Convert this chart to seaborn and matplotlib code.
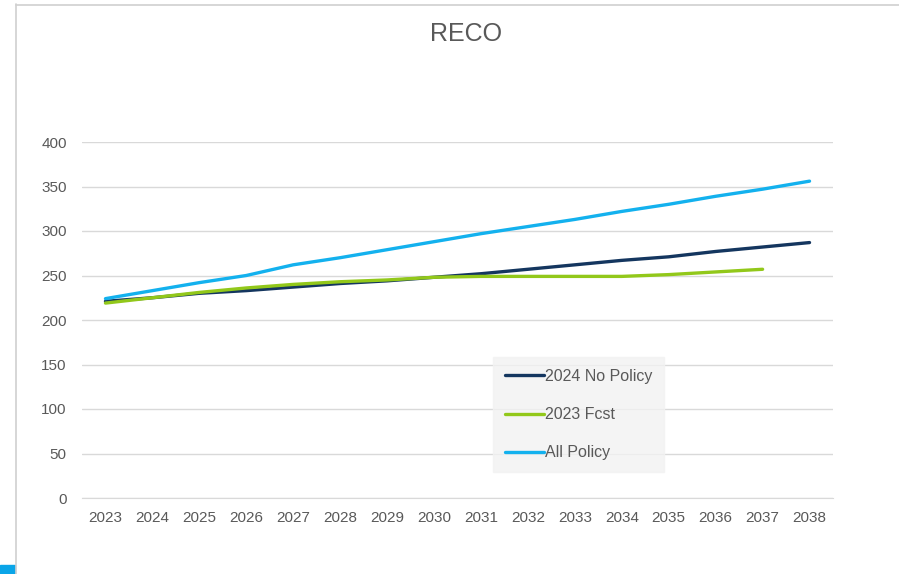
import numpy as np
import pandas as pd
import matplotlib
matplotlib.use("Agg")
import matplotlib.pyplot as plt
import seaborn as sns

years = list(range(2023, 2039))
no_policy = [221, 225, 230, 233, 237, 241, 244, 248, 252, 257, 262, 267, 271, 277, 282, 287]
fcst_2023 = [219, 225, 231, 236, 240, 243, 245, 248, 249, 249, 249, 249, 251, 254, 257, np.nan]
all_policy = [224, 233, 242, 250, 262, 270, 279, 288, 297, 305, 313, 322, 330, 339, 347, 356]
series_names = ["2024 No Policy", "2023 Fcst", "All Policy"]
colors = ["#14365f", "#92c81a", "#13b1ee"]

df = pd.concat([
    pd.DataFrame({"year": years, "value": no_policy, "series": series_names[0]}),
    pd.DataFrame({"year": years, "value": fcst_2023, "series": series_names[1]}),
    pd.DataFrame({"year": years, "value": all_policy, "series": series_names[2]}),
]).dropna()

sns.set_style("white")
plt.rcParams["font.family"] = ["Liberation Sans", "DejaVu Sans"]

fig = plt.figure(figsize=(8.99, 5.74), dpi=100)
ax = fig.add_axes([82/899, 1-498/574, (833-82)/899, (498-142)/574])

sns.lineplot(data=df, x="year", y="value", hue="series", hue_order=series_names,
             palette=colors, linewidth=2.4, ax=ax, legend=True)

ax.set_xlim(2022.5, 2038.5)
ax.set_ylim(0, 400)
ax.set_xticks(years)
ax.set_xticklabels([str(y) for y in years])
ax.set_yticks(range(0, 401, 50))
ax.yaxis.grid(True, color="#d9d9d9", linewidth=1)
ax.xaxis.grid(False)
for s in ["top", "right", "left"]:
    ax.spines[s].set_visible(False)
ax.spines["bottom"].set_color("#d9d9d9")
ax.tick_params(axis="both", length=0, labelsize=11, colors="#595959")
ax.tick_params(axis="x", pad=9)
ax.tick_params(axis="y", pad=11)
ax.set_xlabel("")
ax.set_ylabel("")

fig.text(466/899, 1-34/574, "RECO", ha="center", va="center", fontsize=18, color="#595959")

leg = ax.legend(loc="upper left", bbox_to_anchor=(493/899, 1-357/574), bbox_transform=fig.transFigure,
                frameon=True, fancybox=False, handlelength=2.45, handletextpad=0.05,
                labelspacing=1.45, borderpad=0.75, fontsize=11.5, borderaxespad=0)
leg.get_frame().set_facecolor("#f2f2f2")
leg.get_frame().set_edgecolor("#f2f2f2")
for t in leg.get_texts():
    t.set_color("#595959")

# outer frame of the screenshot
fig.add_artist(plt.Line2D([16/899, 16/899], [0, 1-4/574], transform=fig.transFigure, color="#d0d0d0", linewidth=1.2))
fig.add_artist(plt.Line2D([16/899, 1], [1-5/574, 1-5/574], transform=fig.transFigure, color="#d0d0d0", linewidth=1.2))
fig.add_artist(plt.Rectangle((0, 0), 15/899, 9/574, transform=fig.transFigure, color="#0aa5e8"))

fig.savefig("out.png", dpi=100)
